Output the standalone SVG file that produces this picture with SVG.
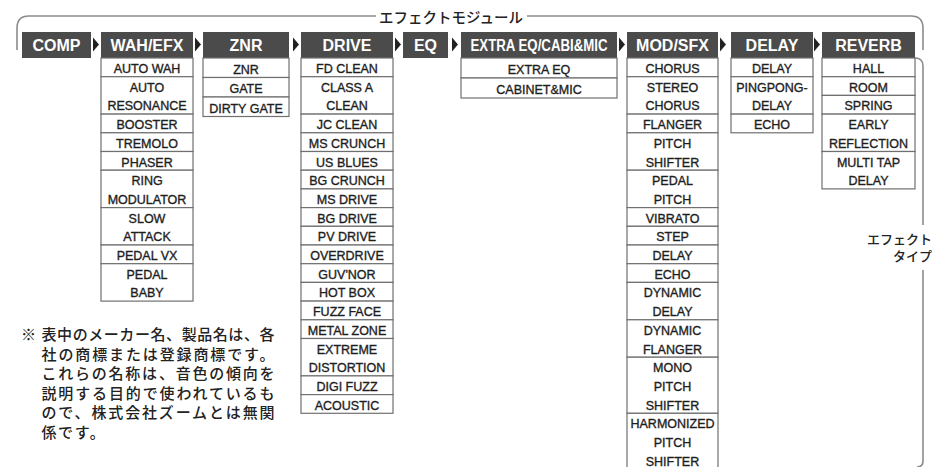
<svg xmlns="http://www.w3.org/2000/svg" width="934" height="467" viewBox="0 0 934 467">
<style>
.hd{fill:#4b4b4b}
.ht{font-family:"Liberation Sans",Arial,sans-serif;font-weight:bold;font-size:16px;fill:#fff;text-anchor:middle}
.c{fill:#fff;stroke:#707070;stroke-width:1.2}
.ct{font-family:"Liberation Sans",Arial,sans-serif;font-size:12.5px;fill:#1e1e1e;stroke:#1e1e1e;stroke-width:0.35;text-anchor:middle}
.ar{fill:#222}
.br{fill:none;stroke:#8c8c8c;stroke-width:1.6}
.jp{font-family:"Noto Sans CJK JP","Noto Sans CJK SC",sans-serif;font-weight:500;fill:#222}
</style>
<rect width="934" height="467" fill="#fff"/>
<g id="connectors">
<path class="br" d="M17,50 V28 Q17,16 29,16 H376 M527,16 H911 Q923,16 923,28 V50"/>
<path class="br" d="M915,58 Q923,58 923,66 V225 M923,270 V461 Q923,467 917,467"/>
<polygon class="ar" points="93,37.5 99,44.5 93,51.5"/>
<polygon class="ar" points="195,37.5 201,44.5 195,51.5"/>
<polygon class="ar" points="293,37.5 299,44.5 293,51.5"/>
<polygon class="ar" points="395,37.5 401,44.5 395,51.5"/>
<polygon class="ar" points="452,37.5 458,44.5 452,51.5"/>
<polygon class="ar" points="619,37.5 625,44.5 619,51.5"/>
<polygon class="ar" points="720,37.5 726,44.5 720,51.5"/>
<polygon class="ar" points="814,37.5 820,44.5 814,51.5"/>
</g>
<g id="title"><text class="jp" x="451" y="22.5" font-size="14.5" text-anchor="middle">エフェクトモジュール</text></g>
<g id="type-label">
<text class="jp" x="932" y="244" font-size="13" text-anchor="end">エフェクト</text>
<text class="jp" x="932" y="260.5" font-size="13" text-anchor="end">タイプ</text>
</g>
<g id="comp">
<rect class="hd" x="22" y="32" width="69" height="26"/>
<text class="ht" x="56.5" y="50.5">COMP</text>
</g>
<g id="wah">
<rect class="hd" x="101" y="32" width="92" height="26"/>
<text class="ht" x="147" y="50.5">WAH/EFX</text>
<rect class="c" x="101" y="58" width="92" height="18.7"/>
<rect class="c" x="101" y="76.7" width="92" height="37.4"/>
<rect class="c" x="101" y="114.1" width="92" height="18.7"/>
<rect class="c" x="101" y="132.8" width="92" height="18.7"/>
<rect class="c" x="101" y="151.5" width="92" height="18.7"/>
<rect class="c" x="101" y="170.2" width="92" height="37.4"/>
<rect class="c" x="101" y="207.6" width="92" height="37.4"/>
<rect class="c" x="101" y="245" width="92" height="18.7"/>
<rect class="c" x="101" y="263.7" width="92" height="37.4"/>
<text class="ct" x="147" y="73">AUTO WAH</text>
<text class="ct" x="147" y="91.7">AUTO</text>
<text class="ct" x="147" y="110.4">RESONANCE</text>
<text class="ct" x="147" y="129.1">BOOSTER</text>
<text class="ct" x="147" y="147.8">TREMOLO</text>
<text class="ct" x="147" y="166.5">PHASER</text>
<text class="ct" x="147" y="185.2">RING</text>
<text class="ct" x="147" y="203.9">MODULATOR</text>
<text class="ct" x="147" y="222.6">SLOW</text>
<text class="ct" x="147" y="241.3">ATTACK</text>
<text class="ct" x="147" y="260">PEDAL VX</text>
<text class="ct" x="147" y="278.7">PEDAL</text>
<text class="ct" x="147" y="297.4">BABY</text>
</g>
<g id="znr">
<rect class="hd" x="203" y="32" width="86" height="26"/>
<text class="ht" x="246" y="50.5">ZNR</text>
<rect class="c" x="203" y="58" width="86" height="19.5"/>
<rect class="c" x="203" y="77.5" width="86" height="19.5"/>
<rect class="c" x="203" y="97" width="86" height="19.5"/>
<text class="ct" x="246" y="73.5">ZNR</text>
<text class="ct" x="246" y="93">GATE</text>
<text class="ct" x="246" y="112.5">DIRTY GATE</text>
</g>
<g id="drive">
<rect class="hd" x="301" y="32" width="92" height="26"/>
<text class="ht" x="347" y="50.5">DRIVE</text>
<rect class="c" x="301" y="58" width="92" height="18.7"/>
<rect class="c" x="301" y="76.7" width="92" height="37.4"/>
<rect class="c" x="301" y="114.1" width="92" height="18.7"/>
<rect class="c" x="301" y="132.8" width="92" height="18.7"/>
<rect class="c" x="301" y="151.5" width="92" height="18.7"/>
<rect class="c" x="301" y="170.2" width="92" height="18.7"/>
<rect class="c" x="301" y="188.9" width="92" height="18.7"/>
<rect class="c" x="301" y="207.6" width="92" height="18.7"/>
<rect class="c" x="301" y="226.3" width="92" height="18.7"/>
<rect class="c" x="301" y="245" width="92" height="18.7"/>
<rect class="c" x="301" y="263.7" width="92" height="18.7"/>
<rect class="c" x="301" y="282.4" width="92" height="18.7"/>
<rect class="c" x="301" y="301.1" width="92" height="18.7"/>
<rect class="c" x="301" y="319.8" width="92" height="18.7"/>
<rect class="c" x="301" y="338.5" width="92" height="37.4"/>
<rect class="c" x="301" y="375.9" width="92" height="18.7"/>
<rect class="c" x="301" y="394.6" width="92" height="18.7"/>
<text class="ct" x="347" y="73">FD CLEAN</text>
<text class="ct" x="347" y="91.7">CLASS A</text>
<text class="ct" x="347" y="110.4">CLEAN</text>
<text class="ct" x="347" y="129.1">JC CLEAN</text>
<text class="ct" x="347" y="147.8">MS CRUNCH</text>
<text class="ct" x="347" y="166.5">US BLUES</text>
<text class="ct" x="347" y="185.2">BG CRUNCH</text>
<text class="ct" x="347" y="203.9">MS DRIVE</text>
<text class="ct" x="347" y="222.6">BG DRIVE</text>
<text class="ct" x="347" y="241.3">PV DRIVE</text>
<text class="ct" x="347" y="260">OVERDRIVE</text>
<text class="ct" x="347" y="278.7">GUV'NOR</text>
<text class="ct" x="347" y="297.4">HOT BOX</text>
<text class="ct" x="347" y="316.1">FUZZ FACE</text>
<text class="ct" x="347" y="334.8">METAL ZONE</text>
<text class="ct" x="347" y="353.5">EXTREME</text>
<text class="ct" x="347" y="372.2">DISTORTION</text>
<text class="ct" x="347" y="390.9">DIGI FUZZ</text>
<text class="ct" x="347" y="409.6">ACOUSTIC</text>
</g>
<g id="eq">
<rect class="hd" x="403" y="32" width="45" height="26"/>
<text class="ht" x="425.5" y="50.5">EQ</text>
</g>
<g id="extra">
<rect class="hd" x="461" y="32" width="156" height="26"/>
<text class="ht" x="539" y="50.5" textLength="137" lengthAdjust="spacingAndGlyphs">EXTRA EQ/CABI&amp;MIC</text>
<rect class="c" x="461" y="58" width="156" height="20"/>
<rect class="c" x="461" y="78" width="156" height="20"/>
<text class="ct" x="539" y="73.5">EXTRA EQ</text>
<text class="ct" x="539" y="93.5">CABINET&amp;MIC</text>
</g>
<g id="mod">
<rect class="hd" x="627" y="32" width="91" height="26"/>
<text class="ht" x="672.5" y="50.5">MOD/SFX</text>
<rect class="c" x="627" y="58" width="91" height="18.7"/>
<rect class="c" x="627" y="76.7" width="91" height="37.4"/>
<rect class="c" x="627" y="114.1" width="91" height="18.7"/>
<rect class="c" x="627" y="132.8" width="91" height="37.4"/>
<rect class="c" x="627" y="170.2" width="91" height="37.4"/>
<rect class="c" x="627" y="207.6" width="91" height="18.7"/>
<rect class="c" x="627" y="226.3" width="91" height="18.7"/>
<rect class="c" x="627" y="245" width="91" height="18.7"/>
<rect class="c" x="627" y="263.7" width="91" height="18.7"/>
<rect class="c" x="627" y="282.4" width="91" height="37.4"/>
<rect class="c" x="627" y="319.8" width="91" height="37.4"/>
<rect class="c" x="627" y="357.2" width="91" height="56.1"/>
<rect class="c" x="627" y="413.3" width="91" height="60"/>
<text class="ct" x="672.5" y="73">CHORUS</text>
<text class="ct" x="672.5" y="91.7">STEREO</text>
<text class="ct" x="672.5" y="110.4">CHORUS</text>
<text class="ct" x="672.5" y="129.1">FLANGER</text>
<text class="ct" x="672.5" y="147.8">PITCH</text>
<text class="ct" x="672.5" y="166.5">SHIFTER</text>
<text class="ct" x="672.5" y="185.2">PEDAL</text>
<text class="ct" x="672.5" y="203.9">PITCH</text>
<text class="ct" x="672.5" y="222.6">VIBRATO</text>
<text class="ct" x="672.5" y="241.3">STEP</text>
<text class="ct" x="672.5" y="260">DELAY</text>
<text class="ct" x="672.5" y="278.7">ECHO</text>
<text class="ct" x="672.5" y="297.4">DYNAMIC</text>
<text class="ct" x="672.5" y="316.1">DELAY</text>
<text class="ct" x="672.5" y="334.8">DYNAMIC</text>
<text class="ct" x="672.5" y="353.5">FLANGER</text>
<text class="ct" x="672.5" y="372.2">MONO</text>
<text class="ct" x="672.5" y="390.9">PITCH</text>
<text class="ct" x="672.5" y="409.6">SHIFTER</text>
<text class="ct" x="672.5" y="428.3">HARMONIZED</text>
<text class="ct" x="672.5" y="447">PITCH</text>
<text class="ct" x="672.5" y="465.7">SHIFTER</text>
</g>
<g id="delay">
<rect class="hd" x="731" y="32" width="82" height="26"/>
<text class="ht" x="772" y="50.5">DELAY</text>
<rect class="c" x="731" y="58" width="82" height="18.7"/>
<rect class="c" x="731" y="76.7" width="82" height="37.4"/>
<rect class="c" x="731" y="114.1" width="82" height="18.7"/>
<text class="ct" x="772" y="73">DELAY</text>
<text class="ct" x="772" y="91.7">PINGPONG-</text>
<text class="ct" x="772" y="110.4">DELAY</text>
<text class="ct" x="772" y="129.1">ECHO</text>
</g>
<g id="reverb">
<rect class="hd" x="822" y="32" width="93" height="26"/>
<text class="ht" x="868.5" y="50.5">REVERB</text>
<rect class="c" x="822" y="58" width="93" height="18.7"/>
<rect class="c" x="822" y="76.7" width="93" height="18.7"/>
<rect class="c" x="822" y="95.4" width="93" height="18.7"/>
<rect class="c" x="822" y="114.1" width="93" height="37.4"/>
<rect class="c" x="822" y="151.5" width="93" height="37.4"/>
<text class="ct" x="868.5" y="73">HALL</text>
<text class="ct" x="868.5" y="91.7">ROOM</text>
<text class="ct" x="868.5" y="110.4">SPRING</text>
<text class="ct" x="868.5" y="129.1">EARLY</text>
<text class="ct" x="868.5" y="147.8">REFLECTION</text>
<text class="ct" x="868.5" y="166.5">MULTI TAP</text>
<text class="ct" x="868.5" y="185.2">DELAY</text>
</g>
<g id="note" class="jp" font-size="15">
<text x="21" y="340">※</text>
<text x="41.5" y="340" textLength="233" lengthAdjust="spacing">表中のメーカー名、製品名は、各</text>
<text x="41.5" y="359.5" textLength="233" lengthAdjust="spacing">社の商標または登録商標です。</text>
<text x="41.5" y="379" textLength="233" lengthAdjust="spacing">これらの名称は、音色の傾向を</text>
<text x="41.5" y="398.5" textLength="233" lengthAdjust="spacing">説明する目的で使われているも</text>
<text x="41.5" y="418" textLength="233" lengthAdjust="spacing">ので、株式会社ズームとは無関</text>
<text x="41.5" y="437.5" letter-spacing="1.6">係です。</text>
</g>
</svg>
